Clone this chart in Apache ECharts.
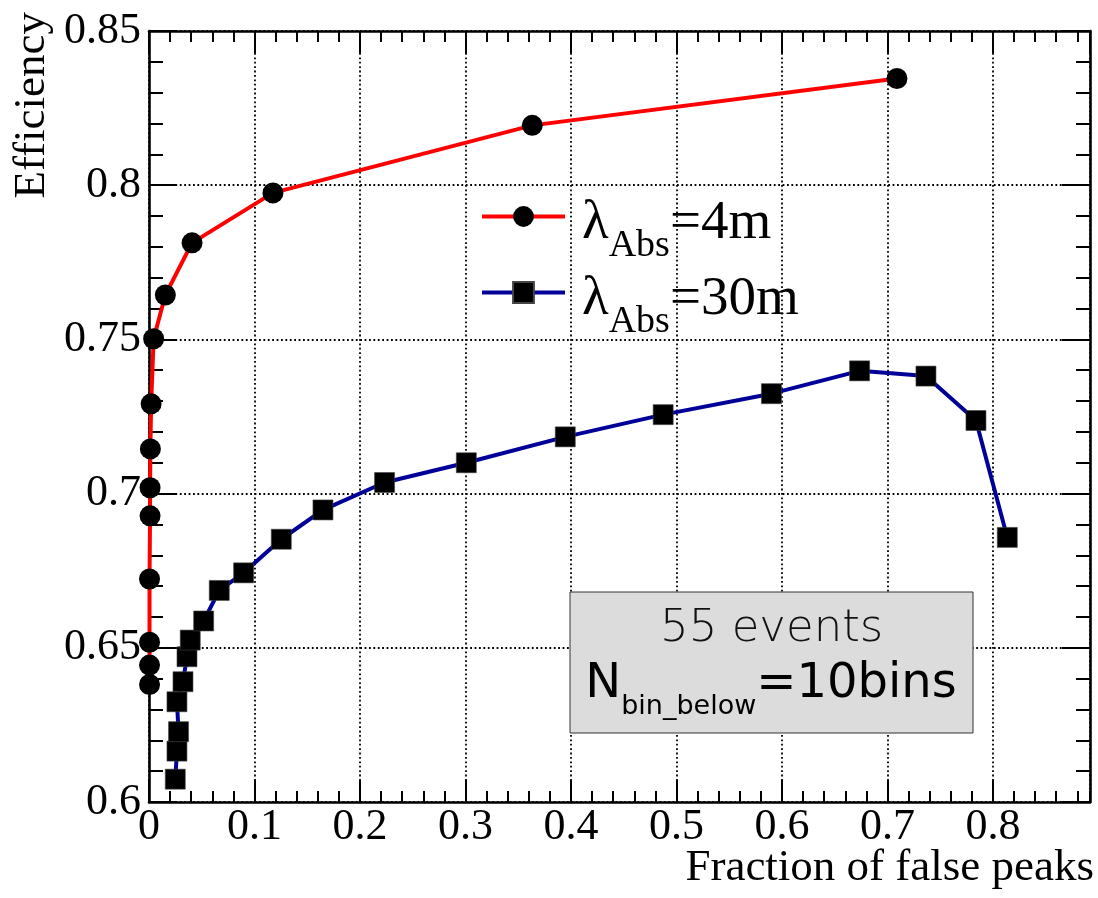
<!DOCTYPE html>
<html>
<head>
<meta charset="utf-8">
<script src="https://cdn.jsdelivr.net/npm/echarts@6/dist/echarts.min.js"></script>
<style>
html,body{margin:0;padding:0;background:#fff;}
#chart{width:1098px;height:898px;}
</style>
</head>
<body>
<div id="chart"></div>
<script>
// ---- data ----
const redName = 'λAbs=4m';
const redX = [0.0005, 0.0005, 0.0005, 0.0005, 0.0010, 0.0010, 0.0013, 0.0020, 0.0044, 0.0155, 0.0408, 0.1175, 0.3633, 0.7090];
const redY = [0.6381, 0.6444, 0.6518, 0.6723, 0.6928, 0.7019, 0.7145, 0.7291, 0.7502, 0.7644, 0.7813, 0.7975, 0.8194, 0.8346];

const blueName = 'λAbs=30m';
const blueX = [0.0249, 0.0265, 0.0280, 0.0265, 0.0322, 0.0360, 0.0391, 0.0518, 0.0666, 0.0897, 0.1254, 0.1649, 0.2233, 0.3008, 0.3946, 0.4874, 0.5900, 0.6736, 0.7365, 0.7839, 0.8136];
const blueY = [0.6074, 0.6165, 0.6228, 0.6325, 0.6390, 0.6471, 0.6525, 0.6587, 0.6686, 0.6743, 0.6852, 0.6947, 0.7036, 0.7100, 0.7184, 0.7256, 0.7324, 0.7398, 0.7381, 0.7237, 0.6858];

const xRange = [0, 0.892];
const yRange = [0.6, 0.85];
const xMajor = 0.1, xMinor = 0.02;
const yMajor = 0.05, yMinor = 0.01;

const xTitle = 'Fraction of false peaks';
const yTitle = 'Efficiency';
const boxLine1 = '55 events';
const boxLine2 = ['N', 'bin_below', '=10bins'];

// ---- chart ----
const serif = '"Liberation Serif", "Times New Roman", serif';
const dots = { color: '#000', width: 1.8, type: [1.8, 2.6] };

function xAx(pos, interval, len, main, label) {
  return {
    type: 'value', position: pos, min: xRange[0], max: xRange[1], interval: interval,
    axisLine: { show: main, onZero: false, lineStyle: { color: '#000', width: 2.6 } },
    axisTick: { show: true, inside: true, length: len, lineStyle: { color: '#000', width: 2 } },
    axisLabel: label ? { show: true, fontFamily: serif, fontSize: 44, color: '#000', margin: 3, showMaxLabel: false } : { show: false },
    splitLine: { show: label, lineStyle: dots },
    minorTick: { show: false }
  };
}
function yAx(pos, interval, len, main, label) {
  return {
    type: 'value', position: pos, min: yRange[0], max: yRange[1], interval: interval,
    axisLine: { show: main, onZero: false, lineStyle: { color: '#000', width: 2.6 } },
    axisTick: { show: true, inside: true, length: len, lineStyle: { color: '#000', width: 2 } },
    axisLabel: label ? { show: true, fontFamily: serif, fontSize: 44, color: '#000', margin: 8 } : { show: false },
    splitLine: { show: label, lineStyle: dots },
    minorTick: { show: false }
  };
}

const legendRich = {
  l: { fontFamily: serif, fontSize: 55, lineHeight: 55, color: '#000', verticalAlign: 'top', padding: [7, 0, 0, 12] },
  m: { fontFamily: serif, fontSize: 55, lineHeight: 55, color: '#000', verticalAlign: 'top', padding: [7, 0, 0, 0] },
  s: { fontFamily: serif, fontSize: 38, lineHeight: 38, color: '#000', verticalAlign: 'top', padding: [38, 0, 0, 0] }
};

const chart = echarts.init(document.getElementById('chart'), null, { renderer: 'canvas' });
chart.setOption({
  animation: false,
  backgroundColor: '#fff',
  grid: { left: 149, right: 8, top: 31, bottom: 96, containLabel: false, outerBoundsMode: 'none' },
  xAxis: [
    xAx('bottom', xMajor, 22, true, true),
    xAx('bottom', xMinor, 11, false, false),
    xAx('top', xMajor, 22, true, false),
    xAx('top', xMinor, 11, false, false)
  ],
  yAxis: [
    yAx('left', yMajor, 28, true, true),
    yAx('left', yMinor, 14, false, false),
    yAx('right', yMajor, 28, true, false),
    yAx('right', yMinor, 14, false, false)
  ],
  legend: {
    orient: 'vertical', left: 480, top: 189, padding: 0, itemGap: 0,
    itemWidth: 83, itemHeight: 26,
    data: [redName, blueName],
    formatter: function (name) {
      const v = name.split('=')[1];
      return '{l|λ}{s|Abs}{m|=' + v + '}';
    },
    lineStyle: { width: 4 },
    textStyle: { rich: legendRich }
  },
  series: [
    {
      name: redName, type: 'line', xAxisIndex: 0, yAxisIndex: 0,
      data: redX.map((x, i) => [x, redY[i]]),
      symbol: 'circle', symbolSize: 21, showSymbol: true, clip: false,
      lineStyle: { color: '#ff0000', width: 4 },
      itemStyle: { color: '#000' },
      z: 3
    },
    {
      name: blueName, type: 'line', xAxisIndex: 0, yAxisIndex: 0,
      data: blueX.map((x, i) => [x, blueY[i]]),
      symbol: 'rect', symbolSize: 20, showSymbol: true, clip: false,
      lineStyle: { color: '#000099', width: 4 },
      itemStyle: { color: '#000', borderColor: '#444', borderWidth: 0.6 },
      z: 3
    }
  ],
  graphic: [
    {
      type: 'text', x: 32, y: 12, rotation: Math.PI / 2, z: 10,
      style: { text: yTitle, font: '45px ' + serif, fill: '#000', align: 'right', verticalAlign: 'middle', textAlign: 'right', textVerticalAlign: 'middle' }
    },
    {
      type: 'text', x: 1094, y: 868, z: 10,
      style: { text: xTitle, font: '45px ' + serif, fill: '#000', align: 'right', verticalAlign: 'middle', textAlign: 'right', textVerticalAlign: 'middle' }
    },
    {
      type: 'rect', z: 10,
      shape: { x: 570, y: 592, width: 403, height: 141 },
      style: { fill: '#dcdcdc', stroke: '#333', lineWidth: 1 }
    },
    {
      type: 'text', x: 771.7, y: 629.8, z: 11,
      style: { text: boxLine1, font: '200 45px "DejaVu Sans"', fill: '#111', align: 'center', verticalAlign: 'middle', textAlign: 'center', textVerticalAlign: 'middle' }
    },
    {
      type: 'text', x: 771, y: 661, z: 11,
      style: {
        text: '{n|' + boxLine2[0] + '}{s|' + boxLine2[1] + '}{n|' + boxLine2[2] + '}',
        align: 'center', verticalAlign: 'top', textAlign: 'center', textVerticalAlign: 'top',
        rich: {
          n: { fontFamily: '"DejaVu Sans"', fontSize: 48, lineHeight: 48, fill: '#000', color: '#000', verticalAlign: 'top' },
          s: { fontFamily: '"DejaVu Sans"', fontSize: 27, lineHeight: 27, fill: '#000', color: '#000', verticalAlign: 'top', padding: [32, 0, 0, 0] }
        }
      }
    }
  ]
});
</script>
</body>
</html>
